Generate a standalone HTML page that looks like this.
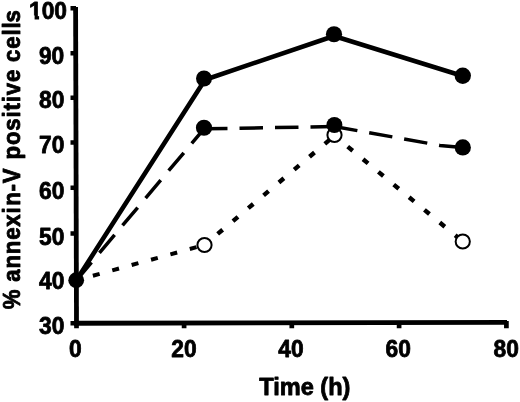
<!DOCTYPE html>
<html>
<head>
<meta charset="utf-8">
<title>Annexin-V positive cells over time</title>
<style>
  html, body { margin: 0; padding: 0; background: #fff; }
  body { width: 520px; height: 402px; overflow: hidden; }
  svg { display: block; }
  text { font-family: "Liberation Sans", Arial, Helvetica, sans-serif; font-weight: bold; fill: #000; stroke: #000; stroke-width: 0.8px; stroke-linejoin: round; }
</style>
</head>
<body>
<svg width="520" height="402" viewBox="0 0 520 402">
  <rect x="0" y="0" width="520" height="402" fill="#ffffff"/>

  <!-- axes -->
  <g stroke="#000" stroke-width="4.8" fill="none" stroke-linecap="butt">
    <path d="M75.6 7 L76.5 325.7"/>
    <path d="M74.1 323.25 L507 322.4"/>
  </g>
  <!-- y ticks -->
  <path d="M70.5 8.2 H76 M70.5 53.25 H76 M70.5 97.75 H76 M70.5 142.5 H76 M70.5 187.7 H76 M70.5 233.5 H76 M70.5 278.2 H76 M70.5 323.25 H76" stroke="#000" stroke-width="4.6" fill="none"/>
  <!-- x ticks -->
  <path d="M76.5 321 V328.2 M184.1 321 V328.2 M291.8 321 V328.2 M399.1 321 V328.2 M506.4 321 V328.2" stroke="#000" stroke-width="4.7" fill="none"/>
  <!-- series lines -->
  <g stroke="#000" fill="none">
    <polyline points="76.4,280.25 205,79.7 334,36 462.75,76" stroke-width="4.6" stroke-linejoin="round"/>
    <line x1="76.4" y1="280.25" x2="204" y2="128.8" stroke-width="3.5" stroke-dasharray="23.5 12.3"/>
    <line x1="204" y1="128.8" x2="334.25" y2="126.5" stroke-width="3.5" stroke-dasharray="23.5 12"/>
    <path d="M334.25 126.5 L440 145.4 L462.75 147.5" stroke-width="3.5" stroke-dasharray="23.5 12"/>
    <line x1="76.4" y1="280.25" x2="204.5" y2="245" stroke-width="4" stroke-dasharray="7 13.1" stroke-dashoffset="3"/>
    <line x1="204.5" y1="245" x2="334.5" y2="135.7" stroke-width="4.4" stroke-dasharray="6.5 13.5" stroke-dashoffset="2.8"/>
    <line x1="334.5" y1="135.7" x2="462.75" y2="241.5" stroke-width="4.4" stroke-dasharray="6.5 13.4" stroke-dashoffset="2.8"/>
  </g>
  <!-- open markers -->
  <g fill="#fff" stroke="#000" stroke-width="2">
    <circle cx="204.5" cy="245" r="7.1"/>
    <circle cx="334.5" cy="135" r="7.1"/>
    <circle cx="462.75" cy="241.5" r="7.1"/>
  </g>
  <!-- filled markers -->
  <g fill="#000">
    <circle cx="76.2" cy="280.25" r="7.9"/>
    <circle cx="204" cy="78.5" r="8"/>
    <circle cx="334" cy="34.25" r="8.1"/>
    <circle cx="462.75" cy="75.75" r="8.2"/>
    <circle cx="204" cy="127.75" r="8.1"/>
    <circle cx="334.4" cy="125" r="8"/>
    <circle cx="462.8" cy="147.4" r="8.1"/>
  </g>
  <!-- y tick labels -->
  <g>
    <text transform="translate(48.0 18.9) scale(0.962 1)" font-size="23.7" text-anchor="middle">100</text>
    <text transform="translate(51.6 64.4) scale(0.962 1)" font-size="23.7" text-anchor="middle">90</text>
    <text transform="translate(51.8 108.2) scale(0.962 1)" font-size="23.7" text-anchor="middle">80</text>
    <text transform="translate(51.8 153.2) scale(0.962 1)" font-size="23.7" text-anchor="middle">70</text>
    <text transform="translate(51.8 199) scale(0.962 1)" font-size="23.7" text-anchor="middle">60</text>
    <text transform="translate(51.8 244.5) scale(0.962 1)" font-size="23.7" text-anchor="middle">50</text>
    <text transform="translate(51.8 288.8) scale(0.962 1)" font-size="23.7" text-anchor="middle">40</text>
    <text transform="translate(51.8 333.7) scale(0.962 1)" font-size="23.7" text-anchor="middle">30</text>
    <!-- trim foot of the 1 to match the sans-serif numeral in the figure -->
    <path d="M29.5 15.6 H34.6 V20.6 H29.5 Z M39.1 15.6 H43.4 V20.6 H39.1 Z" fill="#fff"/>
  </g>
  <!-- x tick labels -->
  <g>
    <text transform="translate(75.25 356.7) scale(0.962 1)" font-size="23.7" text-anchor="middle">0</text>
    <text transform="translate(184 356.7) scale(0.962 1)" font-size="23.7" text-anchor="middle">20</text>
    <text transform="translate(290.9 356.7) scale(0.962 1)" font-size="23.7" text-anchor="middle">40</text>
    <text transform="translate(398.25 356.7) scale(0.962 1)" font-size="23.7" text-anchor="middle">60</text>
    <text transform="translate(506.2 356.7) scale(0.962 1)" font-size="23.7" text-anchor="middle">80</text>
  </g>
  <!-- axis titles -->
  <text transform="translate(304.8 394.9) scale(1.004 1)" font-size="23.5" text-anchor="middle">Time (h)</text>
  <text transform="translate(20.3 309.3) rotate(-90) scale(1 1.075)" font-size="22.2" letter-spacing="0.82" dx="0 0 0 0 0 0 0 0 0.7 0 0 0 1.2 0 0 0 0 0 0 0 0 0 0 0 0 -0.8">% annexin-V positive cells</text>
</svg>
</body>
</html>
